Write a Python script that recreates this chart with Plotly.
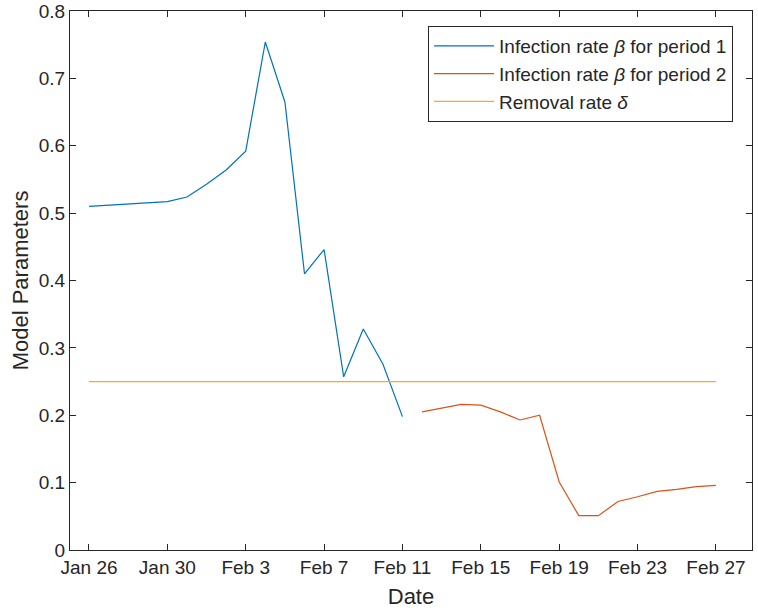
import plotly.graph_objects as go

# ── Datos ───────────────────────────────────────────────────────
DATES_P1 = [
    "2020-01-26", "2020-01-30", "2020-01-31", "2020-02-01", "2020-02-02",
    "2020-02-03", "2020-02-04", "2020-02-05", "2020-02-06", "2020-02-07",
    "2020-02-08", "2020-02-09", "2020-02-10", "2020-02-11",
]
BETA_P1 = [
    0.510, 0.517, 0.524, 0.543, 0.564,
    0.592, 0.754, 0.665, 0.410, 0.446,
    0.257, 0.328, 0.276, 0.198,
]

DATES_P2 = [
    "2020-02-12", "2020-02-13", "2020-02-14", "2020-02-15", "2020-02-16",
    "2020-02-17", "2020-02-18", "2020-02-19", "2020-02-20", "2020-02-21",
    "2020-02-22", "2020-02-23", "2020-02-24", "2020-02-25", "2020-02-26",
    "2020-02-27",
]
BETA_P2 = [
    0.205, 0.210, 0.216, 0.215, 0.205,
    0.193, 0.200, 0.101, 0.051, 0.051,
    0.072, 0.079, 0.087, 0.090, 0.094,
    0.096,
]

DATES_DELTA = ["2020-01-26", "2020-02-27"]
DELTA = [0.25, 0.25]

TICK_DATES = [
    "2020-01-26", "2020-01-30", "2020-02-03", "2020-02-07", "2020-02-11",
    "2020-02-15", "2020-02-19", "2020-02-23", "2020-02-27",
]
TICK_LABELS = [
    "Jan 26", "Jan 30", "Feb 3", "Feb 7", "Feb 11",
    "Feb 15", "Feb 19", "Feb 23", "Feb 27",
]

# ── Estilo ──────────────────────────────────────────────────────
FONT = "Liberation Sans, Arial, sans-serif"
AXIS_COLOR = "#262626"

fig = go.Figure()
fig.add_trace(go.Scatter(
    x=DATES_P1, y=BETA_P1, mode="lines",
    line=dict(color="#0072BD", width=1.2),
    name="Infection rate <i>β</i> for period 1",
))
fig.add_trace(go.Scatter(
    x=DATES_P2, y=BETA_P2, mode="lines",
    line=dict(color="#D95319", width=1.2),
    name="Infection rate <i>β</i> for period 2",
))
fig.add_trace(go.Scatter(
    x=DATES_DELTA, y=DELTA, mode="lines",
    line=dict(color="#EDB120", width=1.2),
    name="Removal rate <i>δ</i>",
))

axis_common = dict(
    showline=True, linecolor=AXIS_COLOR, linewidth=1,
    mirror="allticks", ticks="inside", ticklen=6,
    tickcolor=AXIS_COLOR, showgrid=False, zeroline=False,
    automargin=False, ticklabeloverflow="allow",
    tickfont=dict(size=19, color="#262626", family=FONT),
    title_font=dict(size=22, color="#262626", family=FONT),
)

fig.update_layout(
    width=758, height=614,
    paper_bgcolor="white", plot_bgcolor="white",
    margin=dict(l=70, r=6, t=11, b=64),
    font=dict(family=FONT, color="#262626"),
    xaxis=dict(
        type="date",
        range=["2020-01-25 00:45", "2020-02-28 20:10"],
        tickvals=TICK_DATES, ticktext=TICK_LABELS,
        title=dict(text="Date", standoff=11),
        **axis_common,
    ),
    yaxis=dict(
        range=[0, 0.8], dtick=0.1,
        title=dict(text="Model Parameters", standoff=4),
        **axis_common,
    ),
    legend=dict(
        x=0.525, y=0.972, xanchor="left", yanchor="top",
        bordercolor=AXIS_COLOR, borderwidth=1, bgcolor="white",
        font=dict(size=19, family=FONT, color="#262626"),
        tracegroupgap=0, itemwidth=60,
    ),
)

fig.write_html(
    "out.html",
    config={"displayModeBar": False},
    post_script="document.body.style.margin='0';",
)
